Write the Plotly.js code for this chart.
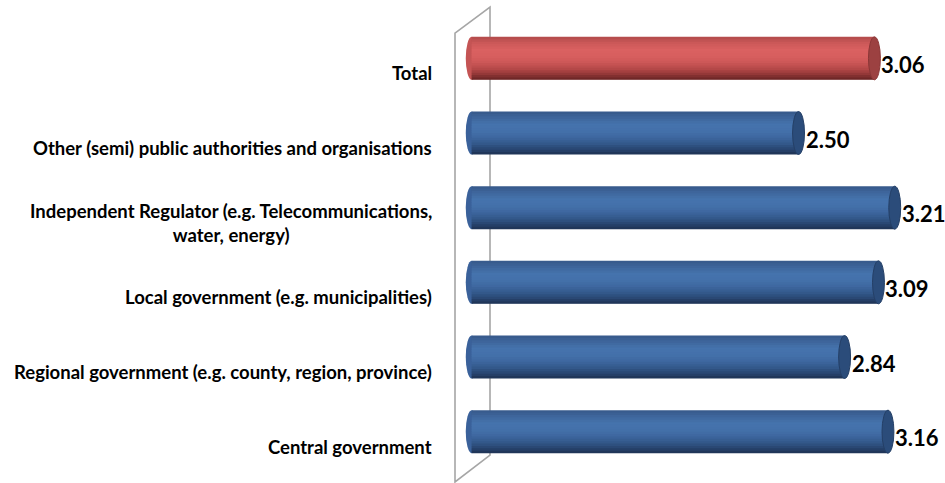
<!DOCTYPE html>
<html>
<head>
<meta charset="utf-8">
<script src="https://cdn.plot.ly/plotly-3.0.1.min.js"></script>
<style>html,body{margin:0;padding:0;background:#fff}#chart{width:945px;height:483px}</style>
</head>
<body>
<div id="chart"></div>
<script>
// ---- data ----
var categories = [
  "Total",
  "Other (semi) public authorities and organisations",
  "Independent Regulator (e.g. Telecommunications,<br>water, energy)",
  "Local government (e.g. municipalities)",
  "Regional government (e.g. county, region, province)",
  "Central government"
];
var values = [3.06, 2.50, 3.21, 3.09, 2.84, 3.16];
var valueLabels = ["3.06", "2.50", "3.21", "3.09", "2.84", "3.16"];
var isTotal = [true, false, false, false, false, false];

// ---- style ----
var BAR_H = 0.575;     // bar thickness in category units
var CAP = 0.044;       // half-width of the end ellipse (x units)
var blueStops = [[0,"#37598A"],[0.12,"#3D6399"],[0.3,"#4573AD"],[0.45,"#4471AB"],[0.6,"#3E67A0"],[0.75,"#33588A"],[0.88,"#284570"],[1,"#1D3252"]];
var redStops  = [[0,"#B04A4A"],[0.12,"#C95757"],[0.3,"#DA6161"],[0.45,"#D85F5F"],[0.6,"#CC5757"],[0.75,"#B44848"],[0.88,"#8E3535"],[1,"#662323"]];

function hex(c){return [parseInt(c.substr(1,2),16),parseInt(c.substr(3,2),16),parseInt(c.substr(5,2),16)];}
function sample(stops,t){
  for(var i=0;i<stops.length-1;i++){
    if(t<=stops[i+1][0]){
      var a=hex(stops[i][1]), b=hex(stops[i+1][1]);
      var f=(t-stops[i][0])/(stops[i+1][0]-stops[i][0]);
      return "rgb("+[0,1,2].map(function(k){return Math.round(a[k]+(b[k]-a[k])*f);}).join(",")+")";
    }
  }
  return stops[stops.length-1][1];
}

var NB = 18;
var traces = [];
for (var k = 0; k < NB; k++) {
  var f0 = k / NB, f1 = (k + 1) / NB, fm = (f0 + f1) / 2;
  var extra = (k < NB - 1) ? 0.025 : 0;
  traces.push({
    type: "bar", orientation: "h",
    y: categories,
    x: values.map(function(v){ return v - 2*CAP; }),
    base: CAP,
    offset: -BAR_H/2 + f0*BAR_H,
    width: (f1 - f0)*BAR_H + extra,
    marker: { color: isTotal.map(function(t){ return sample(t ? redStops : blueStops, fm); }), line: {width: 0} },
    hoverinfo: "skip", showlegend: false
  });
}

var shapes = [];
// 3D wall frame (behind bars)
shapes.push({
  type: "path", xref: "paper", yref: "paper", layer: "below",
  path: "M 0.03 -0.029 L 0.03 0.973 L 0.1 1.031 L 0.1 0.031 Z",
  line: { color: "#A6A6A6", width: 1.6 }, fillcolor: "rgba(0,0,0,0)"
});
values.forEach(function(v, i){
  var yc = i;
  shapes.push({
    type: "circle", xref: "x", yref: "y", layer: "below",
    x0: 0, x1: 2*CAP, y0: yc - BAR_H/2, y1: yc + BAR_H/2,
    fillcolor: isTotal[i] ? "#C45454" : "#3A619A", line: { width: 0 }
  });
  shapes.push({
    type: "circle", xref: "x", yref: "y", layer: "above",
    x0: v - 2*CAP, x1: v, y0: yc - BAR_H/2, y1: yc + BAR_H/2,
    fillcolor: isTotal[i] ? "#9C4141" : "#2B4C7A",
    line: { color: isTotal[i] ? "#8A3636" : "#243F66", width: 1 }
  });
});

var annotations = [];
categories.forEach(function(c, i){
  annotations.push({
    xref: "paper", yref: "y", x: -0.012, y: i, yshift: -15,
    xanchor: "right", yanchor: "middle", align: "center",
    text: c, showarrow: false,
    font: { family: "Lato, 'Open Sans', sans-serif", size: 18.5, color: "#000", weight: "bold" }
  });
  annotations.push({
    xref: "x", yref: "y", x: values[i], y: i, xshift: -1, yshift: -6,
    xanchor: "left", yanchor: "middle",
    text: valueLabels[i], showarrow: false,
    font: { family: "Lato, 'Open Sans', sans-serif", size: 22, color: "#000", weight: "bold" }
  });
});

var layout = {
  width: 945, height: 483,
  margin: { l: 440, r: 5, t: 21, b: 14 },
  paper_bgcolor: "#fff", plot_bgcolor: "rgba(0,0,0,0)",
  barmode: "overlay",
  showlegend: false,
  xaxis: { range: [-0.19, 3.5], visible: false, fixedrange: true },
  yaxis: { type: "category", range: [5.5, -0.5], visible: false, fixedrange: true },
  shapes: shapes,
  annotations: annotations
};

Plotly.newPlot("chart", traces, layout, { displayModeBar: false, staticPlot: true });
</script>
</body>
</html>
